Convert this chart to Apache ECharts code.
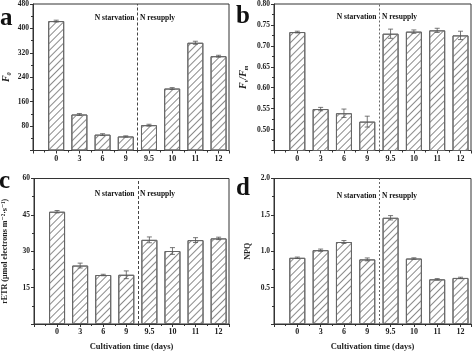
<!DOCTYPE html>
<html><head><meta charset="utf-8">
<script src="https://cdn.jsdelivr.net/npm/echarts@6/dist/echarts.min.js"></script>
<style>html,body{margin:0;padding:0;background:#fff}#c{width:474px;height:352px}</style>
</head><body><div id="c"></div>
<script>
const categories = ['0','3','6','9','9.5','10','11','12'];
const F0 = [424,118,52,46,83,203,353,309];
const F0err = [3,3,3,2,3,3,5,3];
const FvFm = [0.733,0.549,0.539,0.519,0.729,0.734,0.737,0.725];
const FvFmErr = [0.002,0.004,0.010,0.013,0.011,0.004,0.005,0.010];
const rETR = [46.3,24.1,20.2,20.3,34.7,30.1,34.6,35.3];
const rETRerr = [0.5,1.0,0.3,1.6,1.2,1.4,1.0,0.5];
const NPQ = [0.91,1.015,1.127,0.888,1.46,0.90,0.614,0.633];
const NPQerr = [0.01,0.015,0.02,0.02,0.03,0.01,0.01,0.01];
const yTicksA = {min:0,max:480,interval:80,dec:0};
const yTicksB = {min:0.45,max:0.80,interval:0.05,dec:2};
const yTicksC = {min:0,max:60,interval:15,dec:0};
const yTicksD = {min:0,max:2.0,interval:0.5,dec:1};
const splitPos = 3.5;

const FONT = '"Liberation Serif","DejaVu Serif",serif';
const AX = '#333';
const chart = echarts.init(document.getElementById('c'));

const grids = [
  {left:32, top:3.5, width:197, height:147},
  {left:274, top:3.5, width:197, height:147},
  {left:32, top:178.5, width:197, height:147.5},
  {left:274, top:178.5, width:197, height:147.5}
];
const yCfg = [yTicksA,yTicksB,yTicksC,yTicksD];
const vals = [F0,FvFm,rETR,NPQ];
const errs = [F0err,FvFmErr,rETRerr,NPQerr];
const yNames = [
  {text:'{i|F}{s|0}', gap:21},
  {text:'{i|F}{s|v}{i|/F}{s|m}', gap:25},
  {text:'rETR (μmol electrons m⁻²·s⁻¹)', gap:25},
  {text:'NPQ', gap:22}
];
const dashStyles = [[3,2],[2,2],[3,2],[2,2]];

const option = {
  animation:false,
  grid: grids.map(g=>Object.assign({show:true,borderColor:AX,borderWidth:1,containLabel:false},g)),
  xAxis: grids.map((g,i)=>({
    type:'value', gridIndex:i, min:-1, max:7.45, interval:1,
    axisLine:{show:true,onZero:false,lineStyle:{color:AX}},
    axisTick:{show:true,length:3,lineStyle:{color:AX}},
    minorTick:{show:true,splitNumber:2,length:2,lineStyle:{color:AX}},
    splitLine:{show:false},
    axisLabel:{margin:4,fontFamily:FONT,fontWeight:'bold',fontSize:8,color:'#222',
      formatter:v=>{const k=Math.round(v); return (Math.abs(v-k)<1e-6 && categories[k]!==undefined)?categories[k]:'';}},
    name: i>=2?'Cultivation time (days)':'',
    nameLocation:'middle', nameGap:18,
    nameTextStyle:{fontFamily:FONT,fontWeight:'bold',fontSize:8.5,color:'#222'}
  })),
  yAxis: grids.map((g,i)=>({
    type:'value', gridIndex:i, min:yCfg[i].min, max:yCfg[i].max, interval:yCfg[i].interval,
    axisLine:{show:true,onZero:false,lineStyle:{color:AX}},
    axisTick:{show:true,length:3,lineStyle:{color:AX}},
    minorTick:{show:true,splitNumber:2,length:2,lineStyle:{color:AX}},
    splitLine:{show:false},
    axisLabel:{margin:4,fontFamily:FONT,fontWeight:'bold',fontSize:7.5,color:'#222',
      formatter:v=>Math.abs(v-yCfg[i].min)<1e-9?'':v.toFixed(yCfg[i].dec)},
    name:yNames[i].text, nameLocation:'middle', nameGap:yNames[i].gap, nameRotate:90,
    nameTextStyle:{fontFamily:FONT,fontWeight:'bold',fontSize:8,color:'#222',
      rich:{i:{fontFamily:FONT,fontStyle:'italic',fontWeight:'bold',fontSize:10,color:'#222'},
            s:{fontFamily:FONT,fontStyle:'italic',fontWeight:'bold',fontSize:6,color:'#222',padding:[6,0,0,0]}}}
  })),
  series: []
};

for (let i=0;i<4;i++){
  option.series.push({
    type:'bar', xAxisIndex:i, yAxisIndex:i, barWidth:16,
    data: vals[i].map((v,k)=>[k,v]),
    itemStyle:{color:'#fff',borderColor:'#666',borderWidth:1,
      decal:{symbol:'rect',symbolSize:1,dashArrayX:[[1,0]],dashArrayY:[0.8,4],rotation:-Math.PI/4,color:'#8a8a8a'}},
    markLine:{silent:true,symbol:'none',label:{show:false},
      lineStyle:{type:dashStyles[i],color:i%2?'#666':'#444',width:1},
      data:[{xAxis:splitPos}]}
  });
  option.series.push({
    type:'custom', xAxisIndex:i, yAxisIndex:i, z:5,
    data: vals[i].map((v,k)=>[k,v,errs[i][k]]),
    renderItem:(params,api)=>{
      const x=api.value(0), y=api.value(1), e=api.value(2);
      const t=api.coord([x,y+e]), b=api.coord([x,y-e]);
      const st={stroke:'#555',lineWidth:0.8};
      return {type:'group',children:[
        {type:'line',shape:{x1:t[0],y1:t[1],x2:b[0],y2:b[1]},style:st},
        {type:'line',shape:{x1:t[0]-2.5,y1:t[1],x2:t[0]+2.5,y2:t[1]},style:st},
        {type:'line',shape:{x1:b[0]-2.5,y1:b[1],x2:b[0]+2.5,y2:b[1]},style:st}
      ]};
    }
  });
}

const txt = (x,y,t,align,size)=>({type:'text',x:x,y:y,
  style:{text:t,fontFamily:FONT,fontWeight:'bold',fontSize:size||7.5,fill:'#111',align:align,verticalAlign:'middle'}});
option.graphic = [
  txt(0,19,'a','left',25), txt(236,17,'b','left',25),
  txt(-1,182,'c','left',25), txt(236,189,'d','left',25),
  txt(134.5,18,'N starvation','right'), txt(140,18,'N resupply','left'),
  txt(376.5,17,'N starvation','right'), txt(382,17,'N resupply','left'),
  txt(134.5,194,'N starvation','right'), txt(140,194,'N resupply','left'),
  txt(376.5,196,'N starvation','right'), txt(382,196,'N resupply','left')
];
chart.setOption(option);
</script></body></html>
